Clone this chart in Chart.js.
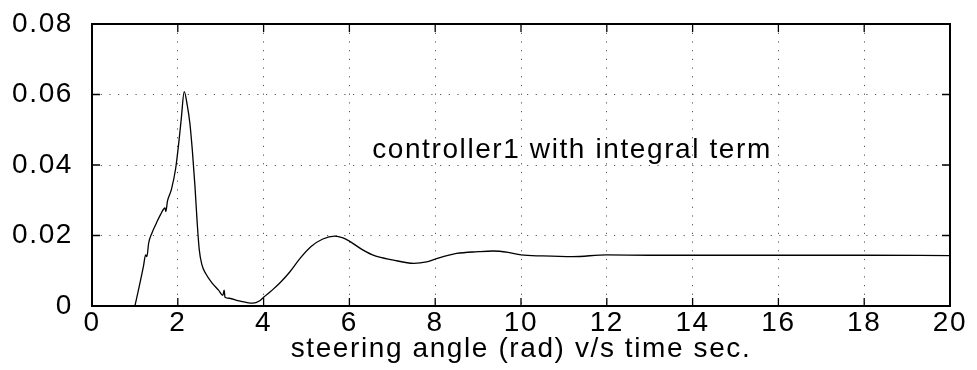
<!DOCTYPE html>
<html>
<head>
<meta charset="utf-8">
<script src="https://cdn.jsdelivr.net/npm/chart.js@4/dist/chart.umd.min.js"></script>
<style>
  html, body { margin: 0; padding: 0; background: #fff; }
  #wrap { width: 977px; height: 370px; }
</style>
</head>
<body>
<div id="wrap"><canvas id="chart" width="977" height="370"></canvas></div>
<script>
// steering angle (time in sec, angle in rad)
const timeSec = [1.0, 1.1, 1.2, 1.25, 1.28, 1.32, 1.4, 1.5, 1.6, 1.7, 1.72, 1.76, 1.85, 1.95,
  2.02, 2.08, 2.15, 2.22, 2.28, 2.34, 2.4, 2.45, 2.5, 2.56, 2.65, 2.8, 2.95, 3.05, 3.08, 3.1,
  3.2, 3.4, 3.6, 3.75, 3.9, 4.0, 4.2, 4.4, 4.6, 4.85, 5.1, 5.38, 5.66, 5.85, 6.0, 6.3, 6.6,
  7.0, 7.5, 7.8, 8.0, 8.5, 9.0, 9.35, 9.7, 10.0, 10.5, 11.2, 12.0, 13.0, 14.0, 16.0, 18.0, 20.0];
const steerRad = [0, 0.0055, 0.0113, 0.0145, 0.014, 0.0178, 0.0208, 0.0235, 0.026, 0.0278, 0.0268, 0.0298, 0.033, 0.039,
  0.046, 0.053, 0.0608, 0.057, 0.052, 0.044, 0.034, 0.024, 0.016, 0.0118, 0.0092, 0.0065, 0.0045, 0.003, 0.0045, 0.0025,
  0.0022, 0.0015, 0.001, 0.0008, 0.0014, 0.0025, 0.0045, 0.0068, 0.0095, 0.0135, 0.0168, 0.019, 0.0198, 0.0193, 0.0184, 0.016, 0.0142,
  0.0131, 0.0121, 0.0125, 0.0133, 0.0149, 0.0154, 0.0156, 0.0152, 0.0145, 0.0142, 0.014, 0.0145, 0.0144, 0.0144, 0.0144, 0.0144, 0.0143];

const xTicks = [0, 2, 4, 6, 8, 10, 12, 14, 16, 18, 20];
const yTicks = [0, 0.02, 0.04, 0.06, 0.08];
const xTitle = 'steering angle (rad) v/s time sec.';
const noteText = 'controller1 with integral term';
const notePos = [6.53, 0.0443];

const FONT = { family: '"Liberation Sans", Arial, Helvetica, sans-serif', size: 28 };
const SPACING = '1.6px';

const spacingPlugin = {
  id: 'spacing',
  beforeLayout(chart) { chart.ctx.letterSpacing = SPACING; },
  beforeDraw(chart) { chart.ctx.letterSpacing = SPACING; }
};

// box round the plot with inward ticks on all four sides, like the original
const boxPlugin = {
  id: 'box',
  afterDatasetsDraw(chart) {
    const { ctx, chartArea: a, scales: { x, y } } = chart;
    const len = 8;
    ctx.save();
    ctx.strokeStyle = '#000';
    ctx.lineWidth = 1.3;
    ctx.beginPath();
    xTicks.forEach(v => {
      const px = x.getPixelForValue(v);
      ctx.moveTo(px, a.bottom); ctx.lineTo(px, a.bottom - len);
      ctx.moveTo(px, a.top); ctx.lineTo(px, a.top + len);
    });
    yTicks.forEach(v => {
      const py = y.getPixelForValue(v);
      ctx.moveTo(a.left, py); ctx.lineTo(a.left + len, py);
      ctx.moveTo(a.right, py); ctx.lineTo(a.right - len, py);
    });
    ctx.stroke();
    ctx.lineWidth = 2;
    ctx.strokeRect(a.left, a.top, a.right - a.left, a.bottom - a.top);

    ctx.letterSpacing = SPACING;
    ctx.font = `${FONT.size}px ${FONT.family}`;
    ctx.fillStyle = '#000';
    ctx.textAlign = 'left';
    ctx.textBaseline = 'middle';
    ctx.fillText(noteText, x.getPixelForValue(notePos[0]), y.getPixelForValue(notePos[1]));
    ctx.restore();
  }
};

const ctx = document.getElementById('chart').getContext('2d');
new Chart(ctx, {
  type: 'line',
  data: {
    datasets: [{
      data: timeSec.map((t, i) => ({ x: t, y: steerRad[i] })),
      borderColor: '#000',
      borderWidth: 1.3,
      pointRadius: 0,
      fill: false,
      cubicInterpolationMode: 'monotone'
    }]
  },
  options: {
    responsive: false,
    animation: false,
    layout: { padding: { top: 24, right: 27, left: 0, bottom: 0 } },
    plugins: { legend: { display: false }, tooltip: { enabled: false } },
    scales: {
      x: {
        type: 'linear',
        min: 0, max: 20,
        afterFit(scale) { scale.height = 64; scale.paddingLeft = 0; scale.paddingRight = 0; },
        afterBuildTicks(scale) { scale.ticks = xTicks.map(v => ({ value: v })); },
        ticks: { color: '#000', font: FONT, padding: 0, maxRotation: 0, autoSkip: false },
        grid: { color: '#555', lineWidth: 1, drawTicks: false },
        border: { display: false, dash: [1.2, 7.5] },
        title: { display: true, text: xTitle, color: '#000', font: FONT, padding: { top: 0, bottom: 4 } }
      },
      y: {
        min: 0, max: 0.08,
        afterFit(scale) { scale.width = 92; scale.paddingTop = 0; scale.paddingBottom = 0; },
        afterBuildTicks(scale) { scale.ticks = yTicks.map(v => ({ value: v })); },
        ticks: { color: '#000', font: FONT, padding: 19, callback: v => String(+v.toFixed(2)) },
        grid: { color: '#555', lineWidth: 1, drawTicks: false },
        border: { display: false, dash: [1.2, 7.5] }
      }
    }
  },
  plugins: [spacingPlugin, boxPlugin]
});
</script>
</body>
</html>
